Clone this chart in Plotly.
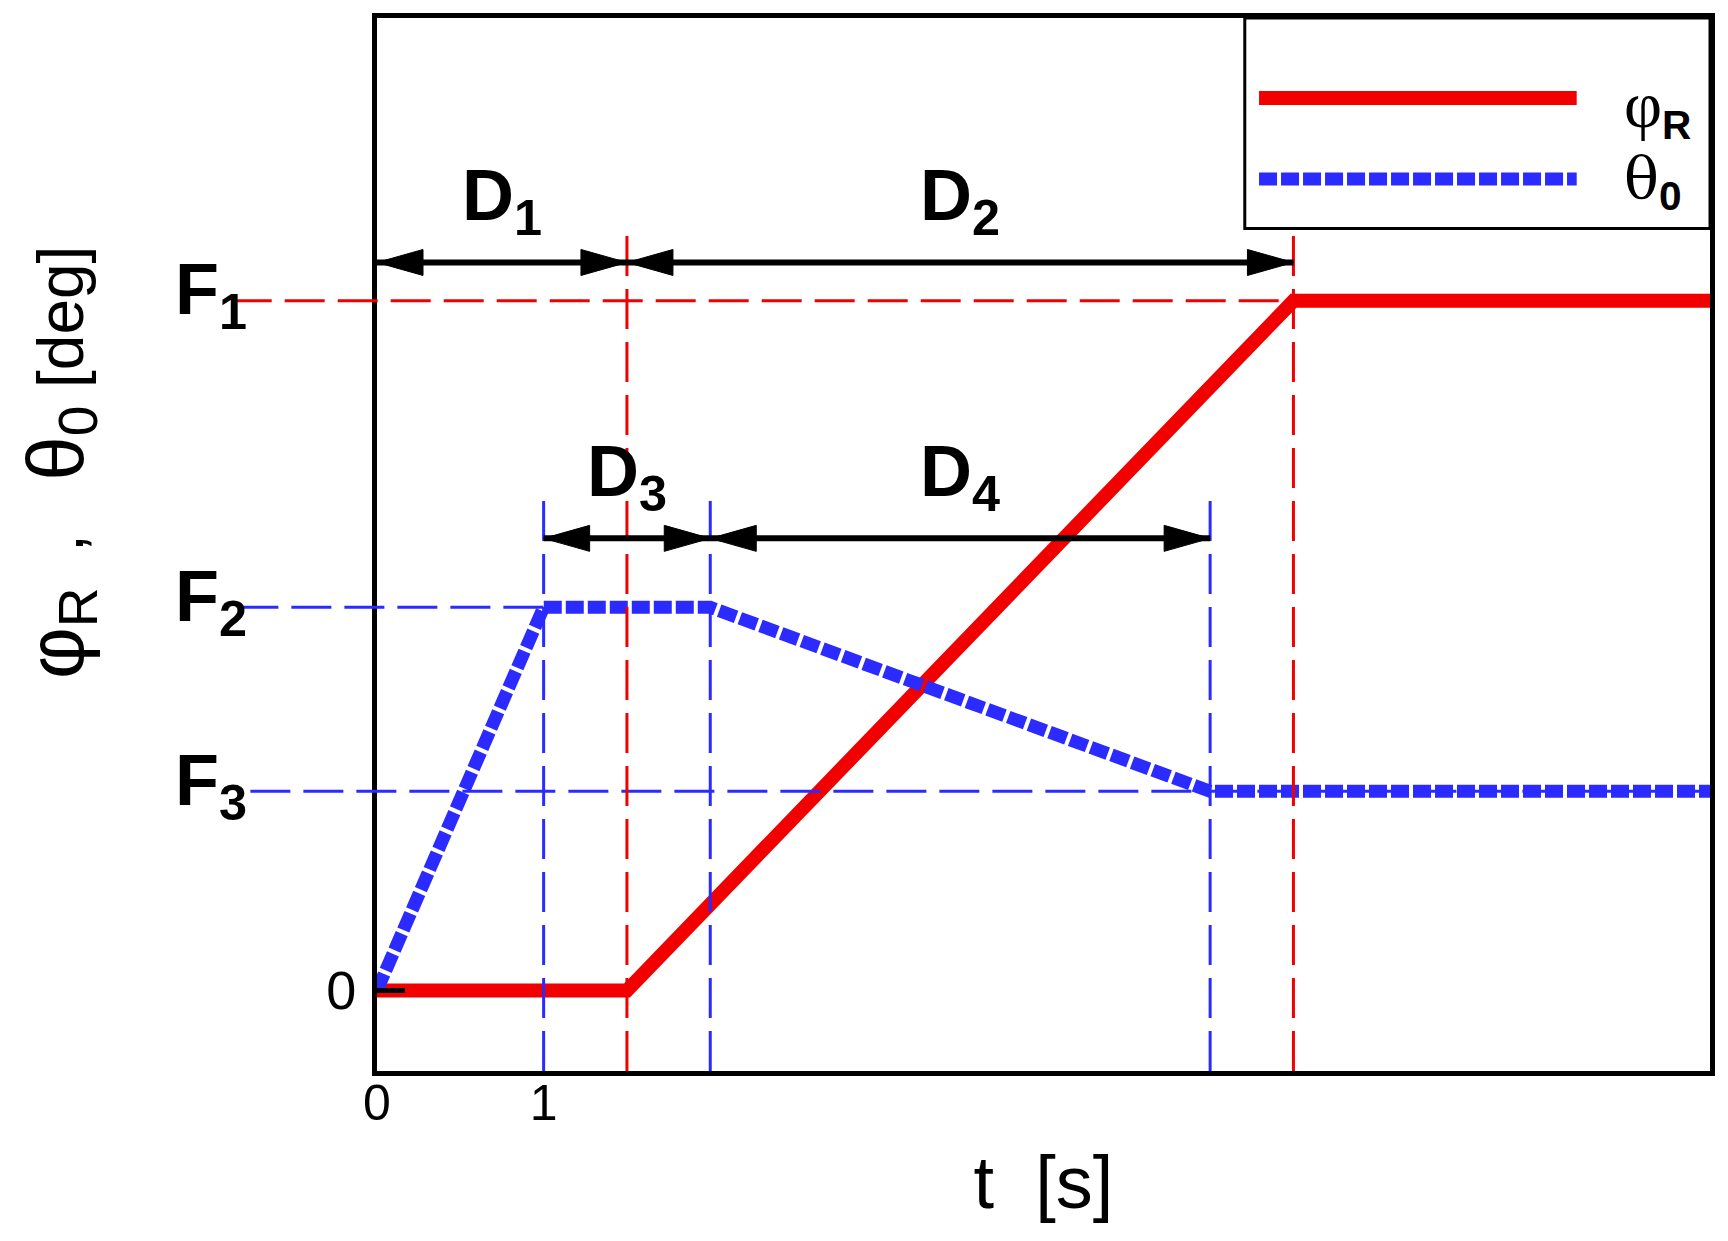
import plotly.graph_objects as go

RED = '#f20000'
BLUE = '#2b2bff'
FONT = 'Liberation Sans, Arial, sans-serif'
NB = '\u00a0'

# time [s] and the two angle histories [deg]
t_phi = [0, 1.5, 5.5, 8]
phi_R = [0, 0, 90, 90]
t_theta = [0, 1, 2, 5, 8]
theta_0 = [0, 50, 50, 26, 26]

# level guides F1..F3
F_names = ['F<sub>1</sub>', 'F<sub>2</sub>', 'F<sub>3</sub>']
F_levels = [90, 50, 26]
F_ends = [5.5, 1, 8]
F_colors = [RED, BLUE, BLUE]
F_guide_start = [-0.109, -0.104, -0.095]   # paper x where the dashes begin

# vertical guides
v_t = [1, 1.5, 2, 5, 5.5]
v_top = [65, 99, 65, 65, 99]
v_colors = [BLUE, RED, BLUE, BLUE, RED]

# duration spans D1..D4
D_names = ['D<sub>1</sub>', 'D<sub>2</sub>', 'D<sub>3</sub>', 'D<sub>4</sub>']
D_start = [0, 1.5, 1, 2]
D_end = [1.5, 5.5, 2, 5]
D_level = [95, 95, 59, 59]

X_MAX = 8
Y_MIN, Y_MAX = -10.5, 126.9

BLUE_DASH = '18px,4px'
GUIDE_DASH = '40px,13px'

fig = go.Figure()
fig.add_trace(go.Scatter(x=t_phi, y=phi_R, mode='lines', name='phi_R',
                         line=dict(color=RED, width=14)))
fig.add_trace(go.Scatter(x=t_theta, y=theta_0, mode='lines', name='theta_0',
                         line=dict(color=BLUE, width=13, dash=BLUE_DASH)))

shapes = []
annotations = []

# horizontal level guides, starting left of the frame
for name, lev, end, col, x0 in zip(F_names, F_levels, F_ends, F_colors, F_guide_start):
    shapes.append(dict(type='line', xref='paper', yref='y', x0=x0, x1=end / X_MAX,
                       y0=lev, y1=lev, line=dict(color=col, width=3, dash=GUIDE_DASH)))
    annotations.append(dict(xref='paper', yref='y', x=-0.1528, y=lev, text='<b>' + name + '</b>',
                            showarrow=False, xanchor='left', yanchor='middle', yshift=6,
                            font=dict(size=72, family=FONT, color='black')))

for t, top, col in zip(v_t, v_top, v_colors):
    shapes.append(dict(type='line', xref='x', yref='y', x0=t, x1=t, y0=Y_MIN, y1=top,
                       line=dict(color=col, width=3, dash=GUIDE_DASH)))

# span arrows
for name, a, b, lev in zip(D_names, D_start, D_end, D_level):
    shapes.append(dict(type='line', xref='x', yref='y', x0=a, x1=b, y0=lev, y1=lev,
                       line=dict(color='black', width=6)))
    for tip, path in ((a, 'M0,0 L46,13 L46,-13 Z'), (b, 'M0,0 L-46,13 L-46,-13 Z')):
        shapes.append(dict(type='path', xref='x', yref='y', xsizemode='pixel', ysizemode='pixel',
                           xanchor=tip, yanchor=lev, path=path,
                           fillcolor='black', line=dict(color='black', width=1)))
    annotations.append(dict(xref='x', yref='y', x=(a + b) / 2, y=lev, yshift=62, text='<b>' + name + '</b>',
                            showarrow=False, xanchor='center', yanchor='middle',
                            font=dict(size=72, family=FONT, color='black')))

# legend box (drawn by hand so the samples can be long and thick)
shapes.append(dict(type='rect', xref='paper', yref='paper', x0=0.651, x1=1.0, y0=0.80, y1=1.0,
                   fillcolor='white', line=dict(color='black', width=3), layer='above'))
legend_rows = [
    (0.924, RED, None, 14, -10,
     '<span style="font-family:Liberation Serif;font-size:66px">φ</span><sub><b>R</b></sub>'),
    (0.847, BLUE, BLUE_DASH, 13, -2,
     '<span style="font-family:DejaVu Serif;font-size:58px">θ</span><sub><b>0</b></sub>'),
]
for y, col, dash, w, dy, label in legend_rows:
    shapes.append(dict(type='line', xref='paper', yref='paper', x0=0.6617, x1=0.900, y0=y, y1=y,
                       line=dict(color=col, width=w, dash=dash), layer='above'))
    annotations.append(dict(xref='paper', yref='paper', x=0.934, y=y, yshift=dy, text=label,
                            showarrow=False, xanchor='left', yanchor='middle',
                            font=dict(size=58, family=FONT, color='black')))

# y axis title
ytitle = ('<span style="font-size:80px">φ</span><sub><span style="font-size:55px">R</span></sub>'
          + NB * 2 + ',' + NB * 3
          + '<span style="font-size:80px">θ</span><sub><span style="font-size:55px">0</span></sub>'
          + NB + '[deg]')
annotations.append(dict(xref='paper', yref='paper', x=-0.238, y=0.578, textangle=-90,
                        showarrow=False, xanchor='center', yanchor='middle', text=ytitle,
                        font=dict(size=64, family=FONT, color='black')))

# page body has an 8px margin, so the figure is 8px smaller and shifted back
fig.update_layout(
    width=1720, height=1233,
    margin=dict(l=369, r=18, t=5, b=170),
    plot_bgcolor='white', paper_bgcolor='white', showlegend=False,
    font=dict(family=FONT, color='black'),
    shapes=shapes, annotations=annotations,
)
fig.update_xaxes(range=[0, X_MAX], tickvals=[0, 1], ticks='', showgrid=False, zeroline=False,
                 showline=True, mirror=True, linecolor='black', linewidth=5, ticklabelstandoff=-16,
                 tickfont=dict(size=50), title=dict(text='t  [s]', font=dict(size=74), standoff=28))
fig.update_yaxes(range=[Y_MIN, Y_MAX], tickvals=[0], ticks='inside', ticklen=28, tickwidth=5,
                 tickcolor='black', showgrid=False, zeroline=False, ticklabelstandoff=5,
                 showline=True, mirror=True, linecolor='black', linewidth=5,
                 tickfont=dict(size=54))

fig.write_html("out.html")
